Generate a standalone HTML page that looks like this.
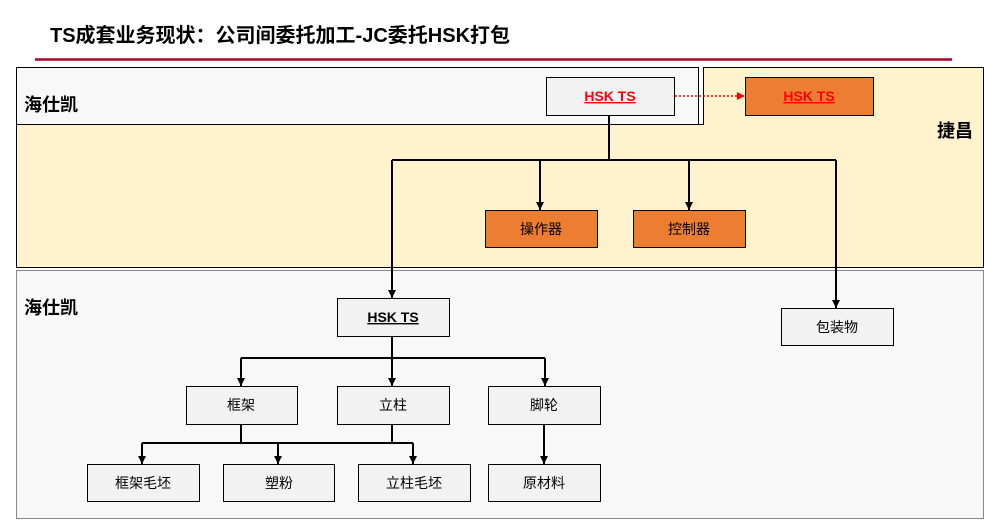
<!DOCTYPE html>
<html><head><meta charset="utf-8"><style>
body{margin:0;width:984px;height:521px;background:#fff;overflow:hidden;font-family:"Liberation Sans","Noto Sans CJK SC",sans-serif}
</style></head><body>
<svg width="984" height="521" xmlns="http://www.w3.org/2000/svg" font-family="Liberation Sans, Noto Sans CJK SC, sans-serif">
<defs><marker id="a" markerWidth="9" markerHeight="8" refX="8" refY="4" orient="auto" markerUnits="userSpaceOnUse"><path d="M0,0 L8,4 L0,8z" fill="#000"/></marker>
<marker id="r" markerWidth="8" markerHeight="8" refX="7" refY="4" orient="auto" markerUnits="userSpaceOnUse"><path d="M0,0 L8,4 L0,8z" fill="#f00"/></marker></defs>
<text x="50" y="42" font-size="20" font-weight="bold">TS成套业务现状：公司间委托加工-JC委托HSK打包</text>
<line x1="35" y1="59.5" x2="952" y2="59.5" stroke="#b0002a" stroke-width="2.5"/>
<path d="M703.5,67.5 H983.5 V267.5 H16.5 V124.5 H703.5 Z" fill="#fff2cc" stroke="#000"/>
<rect x="16.5" y="67.5" width="682" height="57" fill="#f8f8f8" stroke="#000"/>
<rect x="16.5" y="270.5" width="967" height="248" fill="#f8f8f8" stroke="#888"/>
<text x="24" y="111" font-size="18" font-weight="bold">海仕凯</text>
<text x="24" y="314" font-size="18" font-weight="bold">海仕凯</text>
<text x="937" y="137" font-size="18" font-weight="bold">捷昌</text>
<g stroke="#000" stroke-width="1">
<rect x="546.5" y="77.5" width="128" height="38" fill="#f2f2f2"/>
<rect x="745.5" y="77.5" width="128" height="38" fill="#ed7d31"/>
<rect x="485.5" y="210.5" width="112" height="37" fill="#ed7d31"/>
<rect x="633.5" y="210.5" width="112" height="37" fill="#ed7d31"/>
<rect x="337.5" y="298.5" width="112" height="38" fill="#f2f2f2"/>
<rect x="781.5" y="308.5" width="112" height="37" fill="#f2f2f2"/>
<rect x="186.5" y="386.5" width="111" height="38" fill="#f2f2f2"/>
<rect x="337.5" y="386.5" width="112" height="38" fill="#f2f2f2"/>
<rect x="488.5" y="386.5" width="112" height="38" fill="#f2f2f2"/>
<rect x="87.5" y="464.5" width="112" height="37" fill="#f2f2f2"/>
<rect x="223.5" y="464.5" width="111" height="37" fill="#f2f2f2"/>
<rect x="358.5" y="464.5" width="112" height="37" fill="#f2f2f2"/>
<rect x="488.5" y="464.5" width="112" height="37" fill="#f2f2f2"/>
</g>
<line x1="675" y1="96" x2="744" y2="96" stroke="#f00" stroke-width="1.5" stroke-dasharray="2,2" marker-end="url(#r)"/>
<g stroke="#000" stroke-width="2" fill="none">
<path d="M609,115 V160 M392,160 H836"/>
<path d="M540,160 V210" marker-end="url(#a)"/>
<path d="M689,160 V210" marker-end="url(#a)"/>
<path d="M392,160 V298" marker-end="url(#a)"/>
<path d="M836,160 V308" marker-end="url(#a)"/>
<path d="M392,336 V358 M241,358 H545"/>
<path d="M241,358 V386" marker-end="url(#a)"/>
<path d="M392,358 V386" marker-end="url(#a)"/>
<path d="M545,358 V386" marker-end="url(#a)"/>
<path d="M241,424 V443 M392,424 V443 M142,443 H413"/>
<path d="M142,443 V464" marker-end="url(#a)"/>
<path d="M278,443 V464" marker-end="url(#a)"/>
<path d="M413,443 V464" marker-end="url(#a)"/>
<path d="M544,424 V464" marker-end="url(#a)"/>
</g>
<g font-size="14" text-anchor="middle">
<text x="610" y="101" fill="#f00" font-weight="bold" text-decoration="underline">HSK TS</text>
<text x="809" y="101" fill="#f00" font-weight="bold" text-decoration="underline">HSK TS</text>
<text x="541" y="234">操作器</text>
<text x="689" y="234">控制器</text>
<text x="393" y="322" font-weight="bold" text-decoration="underline">HSK TS</text>
<text x="837" y="332">包装物</text>
<text x="241" y="410">框架</text>
<text x="393" y="410">立柱</text>
<text x="544" y="410">脚轮</text>
<text x="143" y="488">框架毛坯</text>
<text x="279" y="488">塑粉</text>
<text x="414" y="488">立柱毛坯</text>
<text x="544" y="488">原材料</text>
</g>
</svg>
</body></html>
